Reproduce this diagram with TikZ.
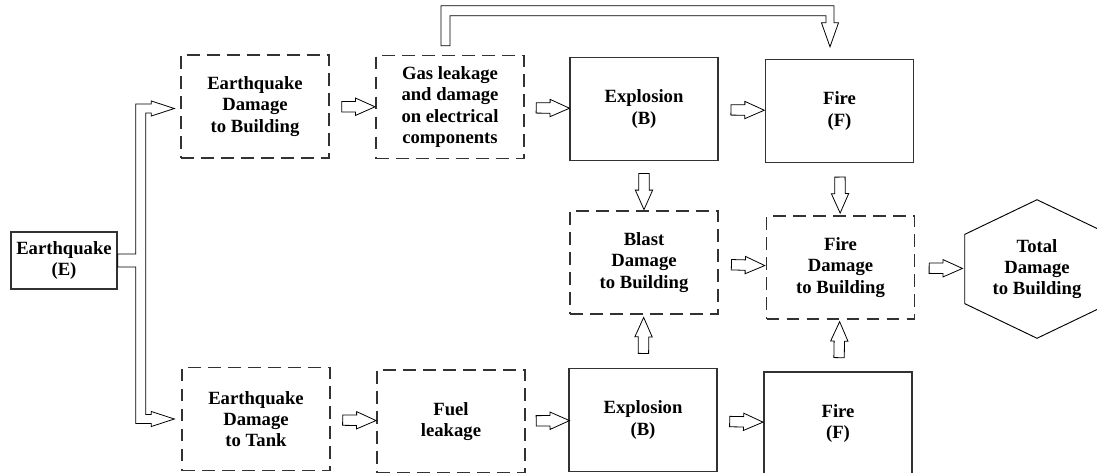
\documentclass[tikz,border=0pt]{standalone}
\usepackage{fontspec}
\setmainfont{Liberation Serif}
\usetikzlibrary{calc,shapes.arrows}

\begin{document}
\begin{tikzpicture}[x=0.75pt, y=-0.75pt]

    % Colours
    \definecolor{linecol}{RGB}{50,50,50}

    % Common styles
    \tikzset{
        reglabel/.style={font=\bfseries\fontsize{14}{16}\selectfont, align=center, text=black},
        solidbox/.style={draw=linecol, line width=1pt, minimum width=111pt,
            minimum height=77.25pt, reglabel},
        dashbox/.style={solidbox, dash pattern=on 9.5pt off 5.5pt},
        blockarr/.style={single arrow, draw=black, line width=0.6pt, fill=white,
            minimum height=25pt, minimum width=0pt, single arrow head extend=2.6pt,
            single arrow tip angle=48, inner xsep=0pt, inner ysep=3.6pt,
            sloped, allow upside down},
        hollow/.style={draw=black, line width=0.6pt, line join=miter}
    }

    \useasboundingbox (0,0) rectangle (1097,472);

    % ===================== source =====================
    \node[solidbox, minimum width=79.5pt, minimum height=42.75pt] (quake)
        at (64,260.5) {Earthquake\\(E)};

    % ============== building branch (top row) ==============
    \node[dashbox] (bldg) at (255,106.5) {Earthquake\\Damage\\to Building};
    \node[dashbox] (gas) at (450,107)
        {Gas leakage\\and damage\\on electrical\\components};
    \node[solidbox] (explT) at (644,109) {Explosion\\(B)};
    \node[solidbox] (fireT) at (839.5,111) {Fire\\(F)};

    % ================= damage (middle row) =================
    \node[dashbox] (blast) at (644,262.5) {Blast\\Damage\\to Building};
    \node[dashbox] (firedmg) at (840.5,267.5) {Fire\\Damage\\to Building};
    \node[minimum width=108pt, minimum height=103.5pt, reglabel] (total)
        at (1037,269) {Total\\Damage\\to Building};
    \draw[black, line width=0.7pt] (total.north)
        -- ($(total.north west)!.25!(total.south west)$)
        -- ($(total.north west)!.75!(total.south west)$)
        -- (total.south)
        -- ($(total.north east)!.75!(total.south east)$)
        -- ($(total.north east)!.25!(total.south east)$) -- cycle;

    % =============== tank branch (bottom row) ===============
    \node[dashbox] (tank) at (256,419) {Earthquake\\Damage\\to Tank};
    \node[dashbox] (fuel) at (451,421.5) {Fuel\\leakage};
    \node[solidbox] (explB) at (643,420) {Explosion\\(B)};
    \node[solidbox] (fireB) at (838,423.5) {Fire\\(F)};

    % ================= straight block arrows =================
    \path (bldg) -- (gas) node[midway, blockarr] {};
    \path (gas) -- (explT) node[midway, blockarr] {};
    \path (explT) -- (fireT) node[midway, blockarr] {};
    \path (explT) -- (blast) node[midway, blockarr, minimum height=27pt] {};
    \path (fireT) -- (firedmg) node[midway, blockarr, minimum height=27pt] {};
    \path (blast) -- (firedmg) node[midway, blockarr] {};
    \path (firedmg) -- (total) node[midway, blockarr] {};
    \path (explB) -- (blast) node[midway, blockarr, minimum height=27pt] {};
    \path (fireB) -- (firedmg) node[midway, blockarr, minimum height=27pt] {};
    \path (tank) -- (fuel) node[midway, blockarr] {};
    \path (fuel) -- (explB) node[midway, blockarr] {};
    \path (explB) -- (fireB) node[midway, blockarr] {};

    % ============ split arrow from the earthquake ============
    \coordinate (bus) at ($(quake.east)+(23,0)$);
    \coordinate (tipA) at ($(bldg.west)+(-6,2)$);
    \coordinate (tipB) at ($(tank.west)+(-7,0)$);
    \draw[hollow] ($(quake.east)+(0,-6.5)$) -- ($(bus)+(-5,-6.5)$)
        |- ($(tipA)+(-23,-4.5)$) -- ++(0,-3) -- (tipA) -- ++(-23,7.5) -- ++(0,-3)
        -| ($(bus)+(5,0)$)
        |- ($(tipB)+(-23,-4.5)$) -- ++(0,-3) -- (tipB) -- ++(-23,7.5) -- ++(0,-3)
        -| ($(bus)+(-5,6.5)$) -- ($(quake.east)+(0,6.5)$) -- cycle;

    % ============== bypass arrow from gas to fire ==============
    \coordinate (gasout) at ($(gas.north)+(-4.5,-9)$);
    \coordinate (firein) at ($(fireT.north)+(-9.5,-12)$);
    \draw[hollow] ($(gasout)+(-4.5,0)$) -- ++(0,-40)
        -| ($(firein)+(4,-24)$) -- ++(4.5,0) -- (firein) -- ++(-8.5,-24) -- ++(4.5,0)
        |- ($(gasout)+(4.5,-30)$) -- ($(gasout)+(4.5,0)$) -- cycle;

\end{tikzpicture}
\end{document}
